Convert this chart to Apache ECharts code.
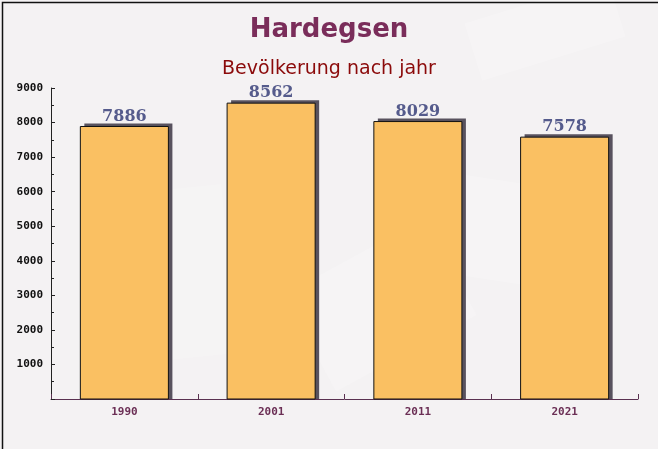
<!DOCTYPE html>
<html>
<head>
<meta charset="utf-8">
<script src="https://cdn.jsdelivr.net/npm/echarts@6/dist/echarts.min.js"></script>
<style>
html,body{margin:0;padding:0;background:#f4f2f3;}
#chart{width:658px;height:449px;}
</style>
</head>
<body>
<div id="chart"></div>
<script>
var categories = ['1990', '2001', '2011', '2021'];
var population = [7886, 8562, 8029, 7578];
var yTicks = [1000, 2000, 3000, 4000, 5000, 6000, 7000, 8000, 9000];

var chart = echarts.init(document.getElementById('chart'));

function renderBar(params, api) {
  var idx = api.value(0);
  var val = api.value(1);
  var top = api.coord([idx, val]);
  var base = api.coord([idx, 0]);
  var bw = api.size([1, 0])[0] * 0.6;
  var x = top[0] - bw / 2;
  var h = base[1] - top[1];
  return {
    type: 'group',
    children: [
      {type: 'rect', shape: {x: x + 4, y: top[1] - 3, width: bw, height: h + 3}, style: {fill: '#58525e'}},
      {type: 'rect', shape: {x: x, y: top[1], width: bw, height: h}, style: {fill: '#fac062', stroke: '#111', lineWidth: 1}},
      {type: 'text', style: {text: String(val), x: top[0], y: top[1] - 2, align: 'center', verticalAlign: 'bottom',
        font: 'bold 16px "DejaVu Serif"', fill: '#555b8c'}}
    ]
  };
}

chart.setOption({
  backgroundColor: '#f4f2f3',
  animation: false,
  graphic: [
    {type: 'rect', left: 0, top: 0, shape: {width: 657, height: 448}, style: {fill: 'none', stroke: '#111', lineWidth: 1.5}, z: 100},
    {type: 'rect', shape: {x: 300, y: 250, width: 160, height: 110}, rotation: 0.5, originX: 380, originY: 305, style: {fill: 'rgba(255,255,255,0.18)'}, z: -1},
    {type: 'rect', shape: {x: 420, y: 180, width: 150, height: 100}, rotation: -0.15, originX: 495, originY: 230, style: {fill: 'rgba(255,255,255,0.18)'}, z: -1},
    {type: 'rect', shape: {x: 100, y: 190, width: 130, height: 170}, rotation: 0.1, originX: 165, originY: 275, style: {fill: 'rgba(255,255,255,0.15)'}, z: -1},
    {type: 'rect', shape: {x: 470, y: 0, width: 150, height: 60}, rotation: 0.3, originX: 545, originY: 30, style: {fill: 'rgba(255,255,255,0.2)'}, z: -1}
  ],
  title: [
    {text: 'Hardegsen', left: 'center', top: 12, textStyle: {fontFamily: 'DejaVu Sans', fontWeight: 'bold', fontSize: 26, color: '#7a2d5a'}},
    {text: 'Bevölkerung nach jahr', left: 'center', top: 55, textStyle: {fontFamily: 'DejaVu Sans', fontWeight: 'normal', fontSize: 19, color: '#8b0a0a'}}
  ],
  grid: {left: 51, right: 20, top: 88, bottom: 50},
  xAxis: {
    type: 'category',
    data: categories,
    axisLine: {lineStyle: {color: '#5a3050', width: 1}},
    axisTick: {show: true, inside: true, length: 5, alignWithLabel: false, lineStyle: {color: '#5a3050'}},
    axisLabel: {fontFamily: 'DejaVu Sans Mono', fontWeight: 'bold', fontSize: 11, color: '#6b2f55', margin: 8}
  },
  yAxis: {
    type: 'value',
    min: 0,
    max: 9000,
    interval: 1000,
    axisLine: {show: true, lineStyle: {color: '#222', width: 1}},
    axisTick: {show: true, inside: true, length: 4, lineStyle: {color: '#222'}},
    minorTick: {show: true, splitNumber: 2, length: 3, lineStyle: {color: '#222'}},
    splitLine: {show: false},
    axisLabel: {
      fontFamily: 'DejaVu Sans Mono', fontWeight: 'bold', fontSize: 11, color: '#111', margin: 8,
      formatter: function (v) { return yTicks.indexOf(v) >= 0 ? String(v) : ''; }
    }
  },
  series: [{
    type: 'custom',
    renderItem: renderBar,
    encode: {x: 0, y: 1},
    data: population.map(function (v, i) { return [i, v]; }),
    z: 2
  }]
});
</script>
</body>
</html>
